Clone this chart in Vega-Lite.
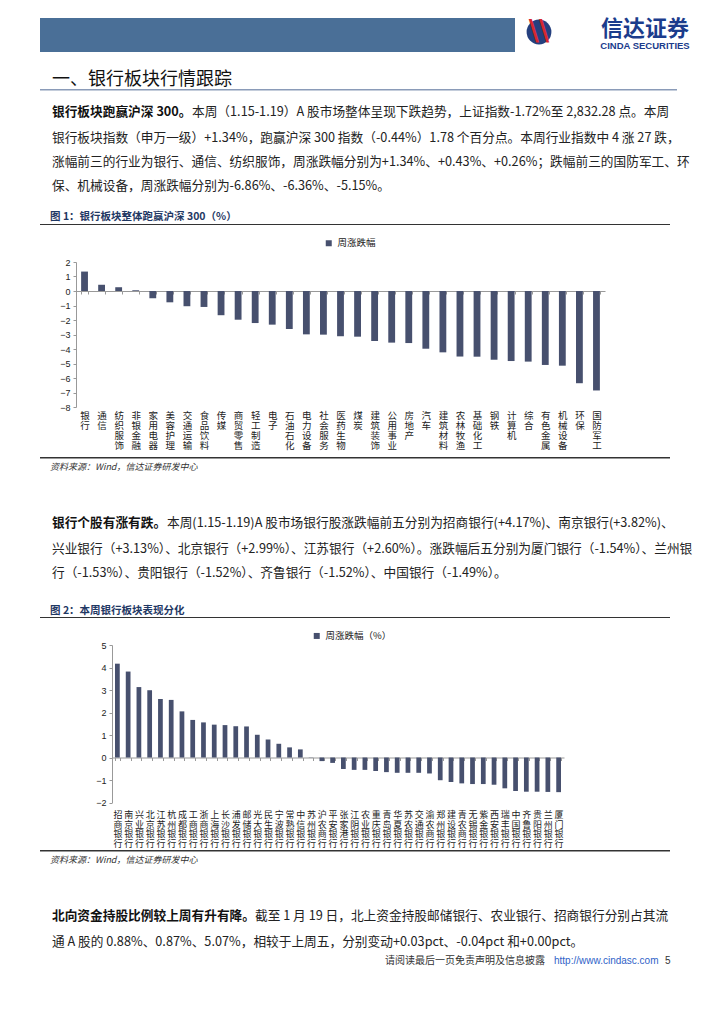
{
  "$schema": "https://vega.github.io/schema/vega-lite/v6.json",
  "background": "white",
  "padding": {"left": 40, "top": 18, "right": 0, "bottom": 0},
  "spacing": 0,
  "resolve": {"scale": {"color": "independent"}, "legend": {"color": "independent"}},
  "config": {
    "view": {"stroke": null},
    "font": "Noto Sans CJK SC",
    "concat": {"spacing": 0},
    "title": {"font": "Noto Sans CJK SC", "fontWeight": "normal", "anchor": "start", "color": "#222", "baseline": "top"}
  },
  "vconcat": [
    {
      "spacing": 0,
      "hconcat": [
        {"width": 475, "height": 34, "view": {"fill": "#4a6f97", "stroke": null}, "data": {"values": []}, "mark": "point"},
        {
          "width": 175, "height": 34,
          "data": {"values": [{"name": "信达证券", "en": "CINDA SECURITIES"}]},
          "layer": [
            {"mark": {"type": "point", "filled": true, "shape": "circle", "size": 615, "color": "#25407f", "xOffset": -63.5, "yOffset": -3, "opacity": 1}, "encoding": {}},
            {"mark": {"type": "text", "text": "\\\\", "fontSize": 28, "fontWeight": "bold", "color": "#d7282f", "dx": -63.5, "dy": -3, "font": "DejaVu Sans"}, "encoding": {}},
            {"mark": {"type": "text", "fontSize": 22, "fontWeight": "bold", "color": "#1b3c8c", "dx": 42.5, "dy": -6}, "encoding": {"text": {"field": "name"}}},
            {"mark": {"type": "text", "fontSize": 9.5, "fontWeight": "bold", "color": "#1b3c8c", "dx": 42.5, "dy": 10.5, "font": "Liberation Sans"}, "encoding": {"text": {"field": "en"}}}
          ]
        }
      ]
    },
    {"width": 628, "height": 19, "data": {"values": []}, "mark": "point"},
    {
      "width": 637, "height": 1.5, "view": {"fill": "#8a9bb8", "stroke": null},
      "title": {"text": "一、银行板块行情跟踪", "fontSize": 18, "dx": 12, "offset": 0, "color": "#111"},
      "data": {"values": []}, "mark": "point"
    },
    {"width": 628, "height": 14.75, "data": {"values": []}, "mark": "point"},
    {
      "spacing": 0,
      "hconcat": [
        {"width": 151, "height": 13, "title": {"text": "银行板块跑赢沪深 300。", "fontSize": 12.7, "fontWeight": "bold", "color": "#111", "dx": 12, "offset": 0}, "data": {"values": []}, "mark": "point"},
        {"width": 477, "height": 13, "title": {"text": "本周（1.15-1.19）A 股市场整体呈现下跌趋势，上证指数-1.72%至 2,832.28 点。本周", "fontSize": 12.7, "offset": 0}, "data": {"values": []}, "mark": "point"}
      ]
    },
    {
      "width": 628, "height": 18.85,
      "title": {
        "text": [
          "银行板块指数（申万一级）+1.34%，跑赢沪深 300 指数（-0.44%）1.78 个百分点。本周行业指数中 4 涨 27 跌，",
          "涨幅前三的行业为银行、通信、纺织服饰，周涨跌幅分别为+1.34%、+0.43%、+0.26%；跌幅前三的国防军工、环",
          "保、机械设备，周涨跌幅分别为-6.86%、-6.36%、-5.15%。"
        ],
        "fontSize": 12.7, "lineHeight": 24, "dx": 12, "offset": 0
      },
      "data": {"values": []}, "mark": "point"
    },
    {
      "width": 630, "height": 1, "view": {"fill": "#333", "stroke": null},
      "title": {"text": "图 1：银行板块整体跑赢沪深 300（%）", "fontSize": 10.5, "color": "#1f3864", "fontWeight": "bold", "dx": 10, "offset": 1.5},
      "data": {"values": []}, "mark": "point"
    },
    {
      "spacing": 0,
      "hconcat": [
        {"width": 1, "height": 10, "data": {"values": []}, "mark": "point"},
        {
          "width": 529, "height": 145,
          "data": {"values": [
            {"name": "银行", "value": 1.34},
            {"name": "通信", "value": 0.43},
            {"name": "纺织服饰", "value": 0.26},
            {"name": "非银金融", "value": 0.05},
            {"name": "家用电器", "value": -0.5},
            {"name": "美容护理", "value": -0.78},
            {"name": "交通运输", "value": -1.05},
            {"name": "食品饮料", "value": -1.1},
            {"name": "传媒", "value": -1.67},
            {"name": "商贸零售", "value": -1.98},
            {"name": "轻工制造", "value": -2.21},
            {"name": "电子", "value": -2.32},
            {"name": "石油石化", "value": -2.62},
            {"name": "电力设备", "value": -2.99},
            {"name": "社会服务", "value": -3.01},
            {"name": "医药生物", "value": -3.12},
            {"name": "煤炭", "value": -3.15},
            {"name": "建筑装饰", "value": -3.45},
            {"name": "公用事业", "value": -3.56},
            {"name": "房地产", "value": -3.59},
            {"name": "汽车", "value": -3.98},
            {"name": "建筑材料", "value": -4.23},
            {"name": "农林牧渔", "value": -4.52},
            {"name": "基础化工", "value": -4.53},
            {"name": "钢铁", "value": -4.74},
            {"name": "计算机", "value": -4.83},
            {"name": "综合", "value": -4.87},
            {"name": "有色金属", "value": -5.1},
            {"name": "机械设备", "value": -5.15},
            {"name": "环保", "value": -6.36},
            {"name": "国防军工", "value": -6.86}
          ]},
          "mark": {"type": "bar"},
          "encoding": {
            "x": {"field": "name", "type": "nominal", "sort": null,
              "scale": {"paddingInner": 0.6, "paddingOuter": 0.3},
              "axis": {"title": null, "labelExpr": "split(datum.label, '')", "labelAngle": 0, "labelFontSize": 9.5, "labelLineHeight": 10, "labelBaseline": "top", "labelPadding": 116, "offset": -116, "tickBand": "extent", "tickSize": 3, "tickColor": "#999", "domainColor": "#999", "labelColor": "#222", "labelFont": "Noto Sans CJK SC", "minExtent": 165.5, "maxExtent": 165.5}},
            "y": {"field": "value", "type": "quantitative",
              "scale": {"domain": [-8, 2], "nice": false},
              "axis": {"title": null, "tickCount": 10, "grid": false, "labelFontSize": 9, "labelFont": "Liberation Sans", "domainColor": "#999", "tickColor": "#999", "tickSize": 3, "labelPadding": 3, "minExtent": 35, "maxExtent": 35, "labelColor": "#222"}},
            "color": {"datum": "周涨跌幅", "type": "nominal", "scale": {"range": ["#47506e"]},
              "legend": {"title": null, "orient": "none", "legendX": 270.5, "legendY": -37, "padding": 13.5, "symbolType": "square", "symbolSize": 36, "labelFontSize": 9.5, "labelFont": "Noto Sans CJK SC", "labelColor": "#222", "symbolStrokeWidth": 0}}
          }
        }
      ]
    },
    {"width": 630, "height": 1.5, "view": {"fill": "#333", "stroke": null}, "data": {"values": []}, "mark": "point"},
    {"width": 628, "height": 3.5, "data": {"values": []}, "mark": "point"},
    {
      "width": 628, "height": 44.65,
      "title": {"text": "资料来源：Wind，信达证券研发中心", "fontSize": 9, "fontStyle": "italic", "color": "#333", "dx": 10, "offset": 0},
      "data": {"values": []}, "mark": "point"
    },
    {
      "spacing": 0,
      "hconcat": [
        {"width": 126, "height": 13, "title": {"text": "银行个股有涨有跌。", "fontSize": 12.7, "fontWeight": "bold", "color": "#111", "dx": 12, "offset": 0}, "data": {"values": []}, "mark": "point"},
        {"width": 502, "height": 13, "title": {"text": "本周(1.15-1.19)A 股市场银行股涨跌幅前五分别为招商银行(+4.17%)、南京银行(+3.82%)、", "fontSize": 12.7, "offset": 0}, "data": {"values": []}, "mark": "point"}
      ]
    },
    {
      "width": 628, "height": 25.85,
      "title": {
        "text": [
          "兴业银行（+3.13%）、北京银行（+2.99%）、江苏银行（+2.60%）。涨跌幅后五分别为厦门银行（-1.54%）、兰州银",
          "行（-1.53%）、贵阳银行（-1.52%）、齐鲁银行（-1.52%）、中国银行（-1.49%）。"
        ],
        "fontSize": 12.7, "lineHeight": 24, "dx": 12, "offset": 0
      },
      "data": {"values": []}, "mark": "point"
    },
    {
      "width": 630, "height": 1, "view": {"fill": "#333", "stroke": null},
      "title": {"text": "图 2：本周银行板块表现分化", "fontSize": 10.5, "color": "#1f3864", "fontWeight": "bold", "dx": 10, "offset": 0.5},
      "data": {"values": []}, "mark": "point"
    },
    {
      "spacing": 0,
      "hconcat": [
        {"width": 1, "height": 10, "data": {"values": []}, "mark": "point"},
        {
          "width": 452, "height": 157.5,
          "data": {"values": [
            {"name": "招商银行", "value": 4.17},
            {"name": "南京银行", "value": 3.82},
            {"name": "兴业银行", "value": 3.13},
            {"name": "北京银行", "value": 2.99},
            {"name": "江苏银行", "value": 2.6},
            {"name": "杭州银行", "value": 2.56},
            {"name": "成都银行", "value": 2.05},
            {"name": "工商银行", "value": 1.67},
            {"name": "浙商银行", "value": 1.56},
            {"name": "上海银行", "value": 1.46},
            {"name": "长沙银行", "value": 1.44},
            {"name": "浦发银行", "value": 1.39},
            {"name": "邮储银行", "value": 1.38},
            {"name": "光大银行", "value": 1.01},
            {"name": "民生银行", "value": 0.8},
            {"name": "宁波银行", "value": 0.61},
            {"name": "常熟银行", "value": 0.45},
            {"name": "中信银行", "value": 0.36},
            {"name": "苏州银行", "value": -0.01},
            {"name": "沪农商行", "value": -0.16},
            {"name": "平安银行", "value": -0.24},
            {"name": "张家港行", "value": -0.51},
            {"name": "江阴银行", "value": -0.55},
            {"name": "农业银行", "value": -0.55},
            {"name": "重庆银行", "value": -0.6},
            {"name": "青岛银行", "value": -0.65},
            {"name": "华夏银行", "value": -0.68},
            {"name": "苏农银行", "value": -0.68},
            {"name": "交通银行", "value": -0.68},
            {"name": "渝农商行", "value": -0.71},
            {"name": "郑州银行", "value": -1.01},
            {"name": "建设银行", "value": -1.09},
            {"name": "青农商行", "value": -1.15},
            {"name": "无锡银行", "value": -1.18},
            {"name": "紫金银行", "value": -1.18},
            {"name": "西安银行", "value": -1.21},
            {"name": "瑞丰银行", "value": -1.37},
            {"name": "中国银行", "value": -1.49},
            {"name": "齐鲁银行", "value": -1.52},
            {"name": "贵阳银行", "value": -1.52},
            {"name": "兰州银行", "value": -1.53},
            {"name": "厦门银行", "value": -1.54}
          ]},
          "mark": {"type": "bar"},
          "encoding": {
            "x": {"field": "name", "type": "nominal", "sort": null,
              "scale": {"paddingInner": 0.56, "paddingOuter": 0.28},
              "axis": {"title": null, "labelExpr": "split(datum.label, '')", "labelAngle": 0, "labelFontSize": 9, "labelLineHeight": 9.7, "labelBaseline": "top", "labelPadding": 50, "offset": -45, "tickBand": "extent", "tickSize": 3, "tickColor": "#999", "domainColor": "#999", "labelColor": "#222", "labelFont": "Noto Sans CJK SC", "minExtent": 91.7, "maxExtent": 91.7}},
            "y": {"field": "value", "type": "quantitative",
              "scale": {"domain": [-2, 5], "nice": false},
              "axis": {"title": null, "tickCount": 7, "grid": false, "labelFontSize": 9, "labelFont": "Liberation Sans", "domainColor": "#999", "tickColor": "#999", "tickSize": 3, "labelPadding": 3, "minExtent": 71, "maxExtent": 71, "labelColor": "#222"}},
            "color": {"datum": "周涨跌幅（%）", "type": "nominal", "scale": {"range": ["#47506e"]},
              "legend": {"title": null, "orient": "none", "legendX": 259.5, "legendY": -26.3, "padding": 12.5, "symbolType": "square", "symbolSize": 36, "labelFontSize": 9.5, "labelFont": "Noto Sans CJK SC", "labelColor": "#222", "symbolStrokeWidth": 0}}
          }
        }
      ]
    },
    {"width": 630, "height": 1.5, "view": {"fill": "#333", "stroke": null}, "data": {"values": []}, "mark": "point"},
    {"width": 628, "height": 3.5, "data": {"values": []}, "mark": "point"},
    {
      "width": 628, "height": 44.65,
      "title": {"text": "资料来源：Wind，信达证券研发中心", "fontSize": 9, "fontStyle": "italic", "color": "#333", "dx": 10, "offset": 0},
      "data": {"values": []}, "mark": "point"
    },
    {
      "spacing": 0,
      "hconcat": [
        {"width": 215, "height": 13, "title": {"text": "北向资金持股比例较上周有升有降。", "fontSize": 12.7, "fontWeight": "bold", "color": "#111", "dx": 12, "offset": 0}, "data": {"values": []}, "mark": "point"},
        {"width": 413, "height": 13, "title": {"text": "截至 1 月 19 日，北上资金持股邮储银行、农业银行、招商银行分别占其流", "fontSize": 12.7, "offset": 0}, "data": {"values": []}, "mark": "point"}
      ]
    },
    {
      "width": 628, "height": 6.05,
      "title": {
        "text": ["通 A 股的 0.88%、0.87%、5.07%，相较于上周五，分别变动+0.03pct、-0.04pct 和+0.00pct。"],
        "fontSize": 12.7, "lineHeight": 24, "dx": 12, "offset": 0
      },
      "data": {"values": []}, "mark": "point"
    },
    {
      "spacing": 0,
      "hconcat": [
        {"width": 505, "height": 1, "title": {"text": "请阅读最后一页免责声明及信息披露", "fontSize": 10, "anchor": "end", "color": "#333", "offset": 0}, "data": {"values": []}, "mark": "point"},
        {"width": 110, "height": 1, "title": {"text": "http://www.cindasc.com", "fontSize": 10, "anchor": "start", "dx": 9, "color": "#2f62c8", "font": "Liberation Sans", "offset": 0}, "data": {"values": []}, "mark": "point"},
        {"width": 20, "height": 1, "title": {"text": "5", "fontSize": 10, "anchor": "start", "dx": 6, "color": "#333", "font": "Liberation Sans", "offset": 0}, "data": {"values": []}, "mark": "point"}
      ]
    }
  ]
}
